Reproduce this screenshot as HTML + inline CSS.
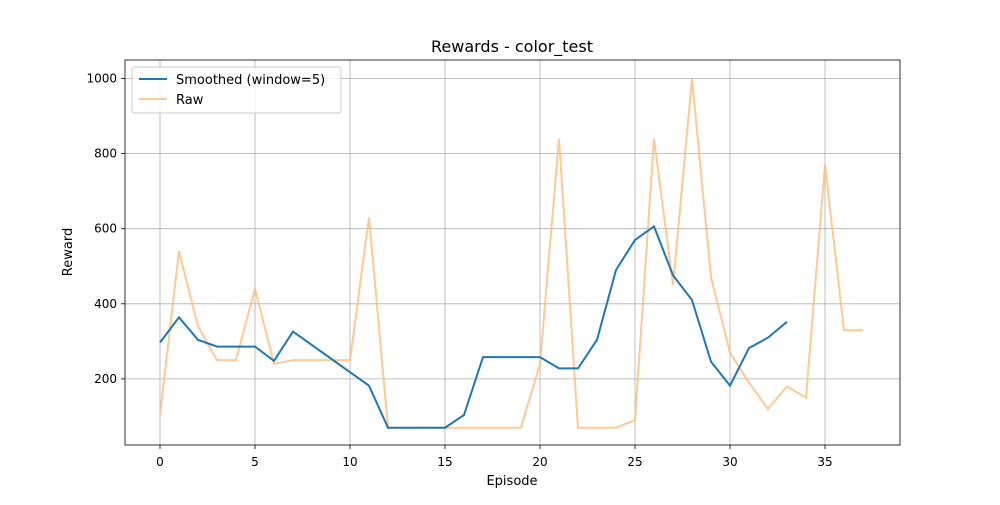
<!DOCTYPE html>
<html><head><meta charset="utf-8"><style>
body{margin:0;background:#fff;font-family:"Liberation Sans","DejaVu Sans",sans-serif}
svg text{font-family:"DejaVu Sans","Liberation Sans",sans-serif;fill:#000}
</style></head><body>
<svg id="c" width="1000" height="500" xmlns="http://www.w3.org/2000/svg">
<rect width="1000" height="500" fill="#fff"/>
<text x="512" y="52" font-size="16" text-anchor="middle">Rewards - color_test</text>
<g id="grid"></g>
<g id="series"></g>
<rect x="125" y="60" width="775" height="385" fill="none" stroke="#000" stroke-width="0.8"/>
<g id="ticks"></g>
<text x="512" y="485" font-size="13" text-anchor="middle">Episode</text>
<text x="72" y="252" font-size="13" text-anchor="middle" transform="rotate(-90 72 252)">Reward</text>
<g>
<rect x="132" y="67" width="209" height="46" rx="3" fill="#fff" fill-opacity="0.8" stroke="#ccc"/>
<line x1="139" y1="79" x2="167" y2="79" stroke="#1f77b4" stroke-width="2"/>
<text x="176" y="84" font-size="13">Smoothed (window=5)</text>
<line x1="139" y1="99" x2="167" y2="99" stroke="#ffbb78" stroke-opacity="0.8" stroke-width="2"/>
<text x="176" y="104" font-size="13">Raw</text>
</g>
</svg>
<script>
const rawValues=[105,540,340,250,250,440,240,250,250,250,250,630,70,70,70,70,70,70,70,70,240,840,70,70,70,90,840,450,1000,470,270,190,120,180,150,770,330,330];
const smoothedValues=[297,364,304,286,286,286,248,326,290,254,218,182,70,70,70,70,104,258,258,258,258,228,228,304,490,570,606,476,410,246,182,282,310,352];
const xTicks=[0,5,10,15,20,25,30,35];
const yTicks=[200,400,600,800,1000];
const NS="http://www.w3.org/2000/svg";
const X=v=>160+v*19;
const Y=v=>454-v*0.3755;
function mk(tag,attrs,parent){const e=document.createElementNS(NS,tag);for(const k in attrs)e.setAttribute(k,attrs[k]);parent.appendChild(e);return e;}
const grid=document.getElementById('grid'),ticks=document.getElementById('ticks'),series=document.getElementById('series');
xTicks.forEach(t=>{
 let l=mk('line',{x1:X(t),x2:X(t),y1:60,y2:445,stroke:'#b0b0b0','stroke-width':0.8},grid);
 
 
 mk('line',{x1:X(t),x2:X(t),y1:445,y2:449,stroke:'#000','stroke-width':0.8},ticks);
 let tx=mk('text',{x:X(t),y:466,'font-size':12,'text-anchor':'middle'},ticks);tx.textContent=t;
 
 
});
yTicks.forEach(t=>{
 let l=mk('line',{x1:125,x2:900,y1:Y(t),y2:Y(t),stroke:'#b0b0b0','stroke-width':0.8},grid);
 
 
 mk('line',{x1:121,x2:125,y1:Y(t),y2:Y(t),stroke:'#000','stroke-width':0.8},ticks);
 let tx=mk('text',{x:117,y:Y(t)+4,'font-size':12,'text-anchor':'end'},ticks);tx.textContent=t;
 
 
});
let r=mk('polyline',{points:rawValues.map((v,i)=>X(i)+','+Y(v)).join(' '),fill:'none',stroke:'#ffbb78','stroke-opacity':0.8,'stroke-width':2},series);


let s=mk('polyline',{points:smoothedValues.map((v,i)=>X(i)+','+Y(v)).join(' '),fill:'none',stroke:'#1f77b4','stroke-width':2},series);


</script>
</body></html>
